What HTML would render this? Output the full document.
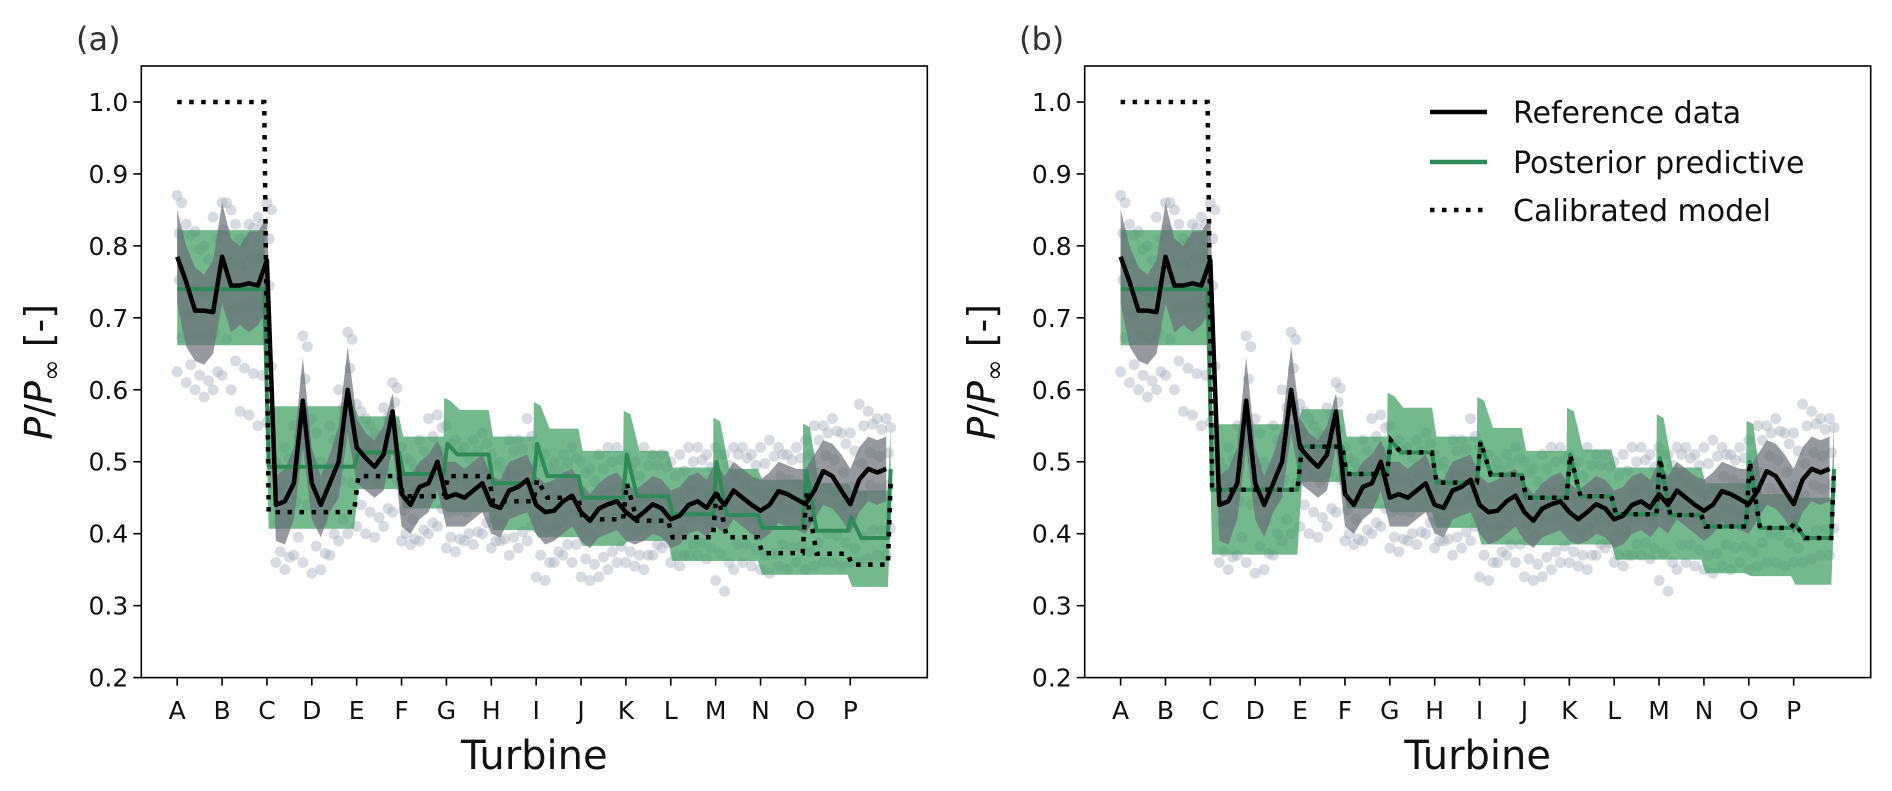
<!DOCTYPE html>
<html><head><meta charset="utf-8"><style>
html,body{margin:0;padding:0;background:#fff;}
svg{display:block;font-family:"DejaVu Sans","Liberation Sans",sans-serif;}
</style></head><body>
<svg id="chart" width="1892" height="791" viewBox="0 0 1892 791" xmlns="http://www.w3.org/2000/svg"></svg>
<script>
// ---------- data ----------
const turbineLabels = ["A","B","C","D","E","F","G","H","I","J","K","L","M","N","O","P"];
const yTickValues = [0.2,0.3,0.4,0.5,0.6,0.7,0.8,0.9,1.0];
const yTickLabels = ["0.2","0.3","0.4","0.5","0.6","0.7","0.8","0.9","1.0"];
const sampleStep = 0.2;
const refData = [.785,.75,.71,.71,.708,.785,.745,.745,.748,.745,.78,.44,.445,.47,.585,.47,.44,.47,.5,.6,
 .52,.505,.493,.51,.57,.455,.44,.465,.47,.5,.45,.455,.45,.46,.47,.44,.436,.46,.465,.475,
 .44,.43,.432,.445,.453,.43,.418,.435,.441,.445,.43,.42,.43,.441,.435,.42,.425,.44,.445,.436,
 .455,.44,.46,.45,.44,.432,.44,.459,.455,.448,.441,.46,.487,.48,.46,.441,.475,.49,.485,.49];
const refHi = [.85,.80,.77,.76,.78,.86,.81,.80,.82,.82,.84,.48,.49,.52,.645,.52,.48,.51,.55,.66,
 .56,.54,.53,.55,.595,.49,.48,.5,.51,.53,.5,.5,.49,.5,.51,.48,.475,.5,.505,.51,
 .48,.47,.475,.485,.49,.47,.455,.47,.48,.485,.47,.46,.47,.48,.475,.46,.465,.48,.485,.475,
 .5,.48,.5,.49,.48,.475,.485,.5,.495,.49,.49,.51,.53,.525,.51,.49,.52,.535,.53,.535];
const refLo = [.72,.66,.64,.635,.65,.72,.68,.69,.68,.69,.71,.39,.385,.42,.52,.42,.395,.43,.45,.54,
 .47,.46,.45,.46,.52,.41,.4,.42,.43,.46,.41,.41,.41,.42,.43,.4,.395,.42,.425,.43,
 .4,.385,.39,.4,.41,.39,.38,.395,.4,.405,.39,.385,.39,.4,.395,.38,.385,.4,.405,.395,
 .41,.4,.42,.41,.4,.39,.4,.415,.41,.405,.4,.42,.44,.435,.42,.4,.43,.445,.44,.445];
const scatHi = [.87,.83,.82,.80,.84,.86,.85,.81,.83,.84,.86,.50,.52,.55,.675,.56,.50,.55,.60,.68,
 .58,.56,.54,.575,.61,.52,.50,.53,.56,.565,.55,.53,.52,.53,.54,.51,.50,.53,.53,.56,
 .52,.51,.50,.51,.52,.50,.49,.51,.52,.52,.51,.50,.52,.51,.51,.50,.51,.52,.52,.51,
 .52,.51,.52,.52,.51,.52,.53,.52,.51,.52,.53,.55,.55,.56,.54,.54,.58,.57,.56,.56];
const scatLo = [.625,.61,.60,.59,.60,.62,.60,.57,.565,.55,.555,.36,.35,.37,.36,.345,.35,.37,.39,.40,
 .41,.40,.395,.41,.43,.39,.385,.39,.40,.41,.38,.375,.39,.385,.40,.38,.39,.37,.38,.39,
 .34,.335,.36,.37,.36,.34,.335,.34,.35,.36,.36,.355,.35,.37,.38,.36,.355,.37,.37,.365,
 .335,.32,.35,.36,.355,.35,.345,.355,.35,.36,.35,.355,.36,.36,.355,.36,.36,.365,.37,.37];
const segStart = [0,2,4,5,6,7,8,9,10,11,12,13,14,15];
const segEnd   = [2,4,5,6,7,8,9,10,11,12,13,14,15,15.9];
// panel (a)
const meanA    = [.74,.493,.513,.483,.51,.47,.48,.45,.452,.427,.426,.408,.404,.394];
const meanSpA  = [null,null,null,null,.525,null,.525,null,.51,null,.5,null,.487,.422];
const hiA      = [.822,.577,.563,.535,.572,.535,.546,.515,.515,.492,.49,.475,.47,.46];
const hiSpA    = [null,null,null,null,.589,null,.583,null,.571,null,.561,null,.553,null];
const loA      = [.662,.407,.462,.435,.43,.405,.395,.383,.39,.362,.362,.343,.343,.326];
const calA     = [1.0,.43,.48,.452,.48,.445,.45,.42,.418,.395,.395,.373,.372,.357];
const calSpA   = [null,null,null,null,null,null,.475,null,.47,null,.462,null,.456,null];
const endA = {mean:.49, hi:.547, lo:.42, cal:.47};
// panel (b)
const meanB    = [.74,.461,.521,.483,.513,.471,.482,.45,.452,.427,.426,.41,.408,.394];
const meanSpB  = [null,null,null,null,.53,null,.528,null,.51,null,.505,null,.5,.415];
const hiB      = [.822,.552,.573,.535,.575,.535,.547,.515,.517,.492,.492,.47,.455,.45];
const hiSpB    = [null,null,null,null,.596,null,.59,null,.575,null,.566,null,.557,null];
const loB      = [.662,.371,.472,.435,.43,.408,.385,.384,.385,.364,.364,.345,.341,.329];
const calB     = [1.0,.461,.521,.483,.513,.471,.482,.45,.452,.427,.426,.41,.408,.394];
const calSpB   = [null,null,null,null,.53,null,.528,null,.51,null,.505,null,.5,.415];
const endB = {mean:.49, hi:.555, lo:.42, cal:.49};

// ---------- drawing ----------
const NS="http://www.w3.org/2000/svg";
const svg=document.getElementById('chart');
function mk(tag,attrs,parent){const e=document.createElementNS(NS,tag);for(const k in attrs)e.setAttribute(k,attrs[k]);(parent||svg).appendChild(e);return e;}
const plotTop=66, plotBot=677.6, yMin=0.2, yMax=1.05;
const tMin=-0.8, tMax=16.717;
function yS(v){return plotBot-(v-yMin)/(yMax-yMin)*(plotBot-plotTop);}

function stepPts(mean,sp,endV){
  const pts=[];
  for(let i=0;i<segStart.length;i++){
    const s=segStart[i],e=segEnd[i];
    if(sp[i]!==null){pts.push([s+0.02,sp[i]]);pts.push([s+0.25,mean[i]]);}
    else pts.push([s+(i===0?0:0.04),mean[i]]);
    pts.push([e-0.06,mean[i]]);
  }
  pts.push([15.9,endV]);
  return pts;
}

function panel(o){
  const L=o.left,R=o.left+786;
  const xS=t=>L+(t-tMin)/(tMax-tMin)*(R-L);
  const g=mk('g',{});
  
  
  const clipId='clip'+o.name;
  const cp=mk('clipPath',{id:clipId},g);mk('rect',{x:L,y:plotTop,width:R-L,height:plotBot-plotTop},cp);
  const data=mk('g',{'clip-path':'url(#'+clipId+')'},g);
  
  
  // scatter
  const sg=mk('g',{fill:'#a3abbb','fill-opacity':'0.42'},data);
  
  
  for(let i=0;i<refData.length;i++){
    const t=i*sampleStep;
    [[0,scatHi[i]],[0.1,(scatHi[i]+refHi[i])/2],[0,scatLo[i]],[0.1,(scatLo[i]+refLo[i])/2],[0.05,(refHi[i]+refData[i])/2],[0.05,(refLo[i]+refData[i])/2]].forEach(p=>{
      const c=mk('circle',{cx:xS(t+p[0]),cy:yS(p[1]),r:5.5},sg);
      
      
    });
  }
  // green band
  const top=[],bot=[];
  for(let i=0;i<segStart.length;i++){
    const s=segStart[i],e=segEnd[i];
    if(o.hiSp[i]!==null){top.push([s-0.05,o.hiSp[i]]);top.push([s+0.1,o.hiSp[i]-0.005]);top.push([s+0.3,o.hi[i]]);}else top.push([s+(i===0?0:0.04),o.hi[i]]);
    top.push([e-0.06,o.hi[i]]);
    bot.push([s+(i===0?0:0.04),o.lo[i]]);bot.push([e-0.06,o.lo[i]]);
  }
  top.push([15.9,o.end.hi]);bot.push([15.9,o.end.lo]);
  const bandPts=top.concat(bot.reverse()).map(p=>xS(p[0]).toFixed(1)+','+yS(p[1]).toFixed(1)).join(' ');
  const gb=mk('polygon',{points:bandPts,fill:'#45a068','fill-opacity':'0.75'},data);
  
  
  // gray band
  let gp=[];
  for(let i=0;i<refHi.length;i++)gp.push([i*sampleStep,refHi[i]]);
  for(let i=refLo.length-1;i>=0;i--)gp.push([i*sampleStep,refLo[i]]);
  const grb=mk('polygon',{points:gp.map(p=>xS(p[0]).toFixed(1)+','+yS(p[1]).toFixed(1)).join(' '),fill:'#6a6e76','fill-opacity':'0.7'},data);
  
  
  // green mean line
  const gm=mk('polyline',{points:stepPts(o.mean,o.meanSp,o.end.mean).map(p=>xS(p[0]).toFixed(1)+','+yS(p[1]).toFixed(1)).join(' '),fill:'none',stroke:'#2e8b57','stroke-width':4,'stroke-linejoin':'round'},data);
  
  
  // reference line
  const rl=mk('polyline',{points:refData.map((v,i)=>xS(i*sampleStep).toFixed(1)+','+yS(v).toFixed(1)).join(' '),fill:'none',stroke:'#000','stroke-width':4.5,'stroke-linejoin':'round'},data);
  
  
  // calibrated dotted
  const cl=mk('polyline',{points:stepPts(o.cal,o.calSp,o.end.cal).map(p=>xS(p[0]).toFixed(1)+','+yS(p[1]).toFixed(1)).join(' '),fill:'none',stroke:'#000','stroke-width':4.5,'stroke-dasharray':'4.5 7.5'},data);
  
  
  // frame
  const fr=mk('rect',{x:L,y:plotTop,width:R-L,height:plotBot-plotTop,fill:'none',stroke:'#000','stroke-width':1.6},g);
  
  
  // y ticks
  yTickValues.forEach((v,i)=>{
    const y=yS(v);
    const tk=mk('line',{x1:L-8,x2:L,y1:y,y2:y,stroke:'#000','stroke-width':1.6},g);
    
    
    const tx=mk('text',{x:L-13,y:y+9,'text-anchor':'end','font-size':25,fill:'#111'},g);
    tx.textContent=yTickLabels[i];
    
    
  });
  // x ticks
  turbineLabels.forEach((lab,i)=>{
    const x=xS(i);
    const tk=mk('line',{x1:x,x2:x,y1:plotBot,y2:plotBot+8,stroke:'#000','stroke-width':1.6},g);
    
    
    const tx=mk('text',{x:x,y:719,'text-anchor':'middle','font-size':25,fill:'#111'},g);
    tx.textContent=lab;
    
    
  });
  const xt=mk('text',{x:(L+R)/2,y:769,'text-anchor':'middle','font-size':40,fill:'#111'},g);
  xt.textContent='Turbine';
  
  
  const yt=mk('text',{x:0,y:0,'text-anchor':'middle','font-size':38,fill:'#111',transform:'translate('+(o.ylabX)+','+((plotTop+plotBot)/2)+') rotate(-90)'},g);
  yt.innerHTML='<tspan font-style="italic">P</tspan>/<tspan font-style="italic">P</tspan><tspan font-size="26" dy="8">∞</tspan><tspan dy="-8"> [-]</tspan>';
  
  
  const pl=mk('text',{x:o.labX,y:50,'font-size':32,fill:'#333'},g);
  pl.textContent=o.label;
  
  
}

panel({name:'panel-a',left:141.3,label:'(a)',labX:76,ylabX:52,mean:meanA,meanSp:meanSpA,hi:hiA,hiSp:hiSpA,lo:loA,cal:calA,calSp:calSpA,end:endA});
panel({name:'panel-b',left:1084.7,label:'(b)',labX:1019,ylabX:995,mean:meanB,meanSp:meanSpB,hi:hiB,hiSp:hiSpB,lo:loB,cal:calB,calSp:calSpB,end:endB});

// legend
const lg=mk('g',{});


const legItems=[['Reference data','#000',null,112],['Posterior predictive','#2e8b57',null,162],['Calibrated model','#000','4.5 7.5',210]];
legItems.forEach(it=>{
  const ln=mk('line',{x1:1430,x2:1487,y1:it[3],y2:it[3],stroke:it[1],'stroke-width':4.5},lg);
  if(it[2])ln.setAttribute('stroke-dasharray',it[2]);
  
  
  const tx=mk('text',{x:1513,y:it[3]+11,'font-size':30,fill:'#111'},lg);
  tx.textContent=it[0];
  
  
});
</script>
</body></html>
